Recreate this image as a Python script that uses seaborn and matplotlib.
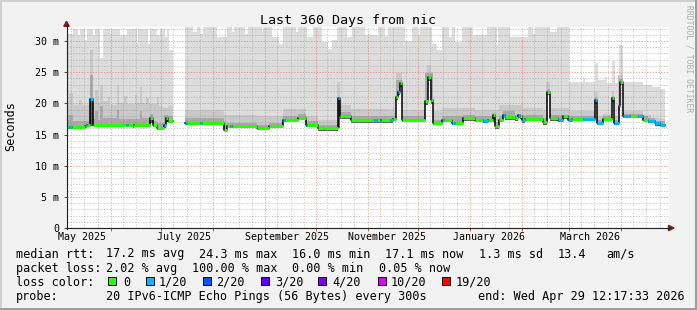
import numpy as np
import pandas as pd
import matplotlib
matplotlib.use("Agg")
import matplotlib.pyplot as plt
import matplotlib.dates as mdates
from matplotlib.patches import Rectangle, Polygon
from matplotlib.lines import Line2D
import seaborn as sns

plt.rcParams["font.family"] = ["DejaVu Sans Mono"]

# ------------------------------------------------------------------ data
title = "Last 360 Days from nic"
y_label = "Seconds"
watermark = "RRDTOOL / TOBI OETIKER"
origin = "2025-05-04 00:00"            # day 0 of the series below
view_start = "2025-05-05 11:30"
view_end = "2026-04-29 12:17"

# median rtt (ms), step series: day since origin, value, loss class, smoke minimum
med_day = [0, 3, 4.5, 12.5, 13.5, 15.5, 17, 37, 38, 41, 42, 51, 53, 55.5, 59.5, 60.5, 62, 65,
           72, 73, 81, 82, 95.5, 97, 99, 100, 115, 122, 130.5, 131.5, 139.4, 144, 145, 151.4,
           163, 164.5, 171, 185, 186.5, 188, 189, 194.5, 196, 198, 199.3, 200.5, 201.5, 215,
           216.8, 218.8, 219.8, 225.3, 226.5, 231, 233, 238, 245, 249.5, 252.5, 255.6, 256.8,
           259, 261.6, 263, 268.8, 270.5, 272, 273, 274.5, 285.5, 288, 289.5, 294.5, 297.5,
           300.5, 303, 309, 316.3, 317.6, 321, 326.5, 327.8, 330.5, 331.5, 333, 337, 342, 345,
           348, 352, 355, 358.2]
med_val = [16.2, 16.2, 16.2, 16.3, 16.6, 20.7, 16.6, 16.6, 16.6, 16.4, 16.6, 17.6, 16.5, 16.0,
           16.6, 17.6, 17.2, np.nan,
           16.9, 16.9, 16.9, 16.9, 15.8, 16.3, 16.3, 16.3, 16.0, 16.3, 17.4, 17.3, 17.7, 16.5,
           16.5, 16.0, 20.8, 17.9, 17.3, 17.3, 17.3, 17.2, 17.3, 17.3, 17.5, 21.0, 21.8, 23.2,
           17.3, 20.4, 24.3, 20.5, 16.8, 17.4, 17.3, 16.9, 16.8, 17.6, 17.3, 17.2, 17.3, 18.1,
           16.3, 17.4, 18.2, 17.8, 17.6, 18.1, 17.9, 17.3, 17.5, 17.0, 21.9, 17.6, 17.3, 17.9,
           17.4, 17.5, 17.5, 20.5, 16.9, 17.5, 20.8, 16.9, 19.5, 23.5, 17.9, 17.9, 17.9, 17.4,
           17.2, 16.8, 16.6, np.nan]
med_loss = [0, 1, 0, 1, 0, 1, 0, 1, 0, 0, 0, 0, 0, 0, 1, 0, 0, 0,
            1, 0, 1, 0, 0, 0, 1, 0, 0, 0, 1, 0, 0, 1, 0, 0, 1, 0, 0, 1, 0, 1, 0, 1, 0, 0,
            1, 0, 0, 0, 0, 0, 0, 1, 0, 1, 0, 0, 0, 1, 0, 0, 0, 0, 1, 0, 0, 1, 0, 1, 0, 0,
            0, 0, 1, 0, 1, 0, 1, 1, 1, 0, 0, 1, 1, 0, 1, 0, 1, 0, 1, 1, 1, 0]
med_lo = [15.9, 15.9, 15.9, 16.0, 16.3, 16.4, 16.3, 16.3, 16.3, 16.1, 16.3, 16.9, 16.2, 15.8,
          16.0, 17.0, 16.9, np.nan,
          16.6, 16.6, 16.6, 16.6, 15.6, 16.0, 16.0, 16.0, 15.7, 16.0, 17.1, 17.0, 17.4, 16.2,
          16.2, 15.6, 16.0, 17.5, 16.9, 16.9, 16.9, 16.9, 16.9, 16.9, 17.1, 20.5, 21.3, 22.6,
          17.0, 19.8, 23.6, 19.9, 16.5, 17.0, 17.0, 16.6, 16.5, 17.2, 17.0, 16.9, 17.0, 17.0,
          15.9, 17.0, 17.8, 17.4, 17.2, 17.6, 17.5, 16.9, 17.1, 16.6, 21.3, 17.2, 17.0, 17.5,
          17.1, 17.2, 17.2, 19.9, 16.5, 17.2, 20.2, 16.5, 19.0, 22.9, 17.6, 17.6, 17.6, 17.1,
          16.9, 16.4, 16.3, np.nan]

# smoke maximum (top of the light smoke)
max_day = [0, 2.4, 5.4, 8.3, 9.5, 12.5, 13.7, 17.3, 18.5, 21.4, 23.2, 27.4, 28, 33.4, 37.5,
           43.5, 44.1, 50, 51.2, 55.4, 57.2, 60.2, 61.4, 62.6, 65,
           72, 76.9, 79.3, 81, 82.8, 91.2, 97.1, 100, 101.3, 107.9, 109.6, 118, 118.6, 124, 128,
           130.5, 138.3, 139.4, 144.8, 148.4, 153.7, 157.3, 159.7, 162.7, 168.6, 171.6, 179.4,
           187.1, 191.3, 193, 203.2, 207.4, 211, 212.4, 219.3, 222.3, 225.3, 229.4, 231.2, 233,
           237.2, 243.7, 252, 258, 258.6, 265.8, 276.5, 279.5, 280.7, 289.6, 293.8,
           300.9, 309.3, 310.5, 316.4, 318.2, 322.4, 323.6, 326.6, 328.4, 330.7, 333.1, 345,
           350.4, 355.2, 358.2]
max_val = [32.0, 31.2, 32.0, 31.0, 32.0, 30.2, 32.0, 31.0, 32.0, 27.2, 32.0, 31.3, 32.0, 31.0,
           32.0, 29.7, 32.0, 29.5, 32.0, 31.0, 32.0, 30.6, 32.0, 28.6, np.nan,
           32.3, 31.5, 32.3, 31.2, 32.3, 30.7, 32.3, 31.4, 32.3, 31.2, 32.3, 31.5, 32.3, 30.6,
           29.6, 32.3, 31.4, 32.3, 30.7, 32.3, 29.8, 28.8, 30.2, 32.3, 30.7, 32.3, 31.0, 32.3,
           30.8, 32.3, 30.0, 32.3, 30.9, 32.3, 29.5, 28.5, 32.3, 30.6, 32.3, 29.9, 32.3, 31.0,
           32.3, 29.4, 32.3, 30.6, 32.3, 31.2, 32.3, 31.4, 32.3,
           23.5, 24.0, 23.4, 26.5, 23.7, 24.3, 23.3, 26.8, 23.2, 29.4, 23.4, 23.0, 22.7, 22.3,
           np.nan]

# top of the medium smoke
hi_day = [0, 3, 5.4, 9, 10.5, 15.5, 17.3, 18.5, 20.3, 21.4, 23.2, 26, 27.5, 31.6, 32.8, 36,
          37.5, 42.3, 43.3, 45.3, 46.5, 49, 50.5, 55.4, 56.6, 59, 62, 65,
          72, 95.5, 115, 122, 130.5, 144, 151.4, 162.5, 164.5, 171, 196, 198, 201.5, 215, 216.5,
          218.8, 219.8, 225.3, 238, 245, 259, 273.5, 285.5, 287.5, 289.5, 300.9, 316, 318.2,
          321, 326.3, 328, 330.3, 333.1, 345, 350, 355, 358.2]
hi_val = [19.8, 21.6, 19.8, 20.5, 19.8, 28.5, 20.2, 22.1, 20.0, 22.9, 20.4, 21.0, 19.8, 22.9,
          20.0, 21.2, 19.9, 21.4, 20.0, 22.7, 20.1, 20.8, 19.9, 21.0, 19.6, 19.2, 19.5, np.nan,
          18.9, 18.2, 17.9, 17.9, 19.1, 17.9, 17.4, 23.5, 19.8, 19.1, 19.3, 24.8, 19.0, 22.0,
          26.1, 22.0, 18.7, 19.3, 19.3, 19.0, 19.8, 19.3, 19.0, 23.5, 19.3, 18.7, 21.8, 18.0,
          18.3, 22.0, 17.9, 24.5, 18.7, 18.2, 17.7, 17.5, np.nan]

# top of the dark smoke
dk_day = [0, 3, 5.4, 15.5, 17.3, 18.5, 20.3, 21.4, 23.2, 31.6, 32.8, 45.3, 46.5, 51, 53, 55.5,
          59.5, 62, 65,
          72, 95.5, 115, 122, 130.5, 139.4, 144, 151.4, 163, 164.5, 171, 198, 201.5, 215, 219.8,
          225.3, 238, 245, 255.6, 256.8, 259, 261.6, 268.8, 274.5, 285.5, 288, 289.5, 300.5,
          316.3, 317.6, 321, 326.5, 327.8, 330.5, 333, 345, 348, 352, 358.2]
dk_val = [17.3, 18.2, 17.2, 24.5, 17.5, 18.8, 17.4, 19.5, 17.6, 19.0, 17.5, 18.8, 17.6, 18.3,
          17.2, 16.8, 18.2, 17.9, np.nan,
          17.6, 16.9, 16.6, 16.9, 18.0, 18.3, 17.1, 16.6, 17.0, 18.6, 17.9, 23.8, 17.9, 24.9,
          17.4, 18.0, 18.2, 17.9, 18.5, 17.0, 18.0, 18.8, 18.2, 18.1, 17.6, 22.3, 18.2, 17.9,
          21.0, 17.4, 17.9, 21.2, 17.4, 23.9, 18.3, 17.9, 17.6, 17.2, np.nan]

y_ticks = [0, 5, 10, 15, 20, 25, 30]
y_tick_labels = ["0", "5 m", "10 m", "15 m", "20 m", "25 m", "30 m"]
y_max = 32.25
x_tick_labels = ["May 2025", "July 2025", "September 2025", "November 2025",
                 "January 2026", "March 2026"]
x_tick_label_dates = ["2025-05-14 16:00", "2025-07-14 12:00", "2025-09-13 14:00",
                      "2025-11-12 12:00", "2026-01-12 08:00", "2026-03-13 12:00"]

loss_labels = ["0", "1/20", "2/20", "3/20", "4/20", "10/20", "19/20"]
loss_colors = ["#26ff00", "#00b8ff", "#0059ff", "#5e00ff", "#7e00ff", "#dd00ff", "#ff0000"]

rtt_items = ["median rtt:", "17.2 ms avg", "24.3 ms max", "16.0 ms min", "17.1 ms now",
             "1.3 ms sd", "13.4", "am/s"]
pl_items = ["packet loss:", "2.02 % avg", "100.00 % max", "0.00 % min", "0.05 % now"]
probe_items = ["probe:", "20 IPv6-ICMP Echo Pings (56 Bytes) every 300s",
               "end: Wed Apr 29 12:17:33 2026"]

# ------------------------------------------------------------------ layout helpers
W, H = 697, 310
def fx(px):
    return px / W
def fy(py):
    return 1 - py / H

fig = plt.figure(figsize=(W / 100, H / 100), dpi=100)
fig.patch.set_facecolor("#F2F2F2")
ax = fig.add_axes([fx(66.5), fy(228), fx(669) - fx(66.5), fy(27) - fy(228)])
ax.set_facecolor("white")

t0 = mdates.date2num(pd.Timestamp(origin))
def tnum(days):
    return t0 + np.asarray(days, dtype=float)

def step_at(bd, bv, g):
    bd = np.asarray(bd, float)
    bv = np.asarray(bv, float)
    idx = np.searchsorted(bd, g, side="right") - 1
    out = bv[np.clip(idx, 0, len(bv) - 1)].copy()
    out[idx < 0] = np.nan
    return out

grid = np.unique(np.concatenate([med_day, max_day, hi_day, dk_day]).astype(float))
xs = np.repeat(grid, 2)[1:-1]
def stepped(bd, bv):
    v = step_at(bd, bv, grid)
    return np.repeat(v[:-1], 2)

lo_s = stepped(med_day, med_lo)
med_s = stepped(med_day, med_val)
max_s = stepped(max_day, max_val)
hi_s = stepped(hi_day, hi_val)
dk_s = stepped(dk_day, dk_val)

X = tnum(xs)
for top, col in [(max_s, "#DDDDDD"), (hi_s, "#C9C9C9"), (dk_s, "#A9A9A9"), (med_s, "#5E5E5E")]:
    ax.fill_between(X, lo_s, np.maximum(top, lo_s), color=col, lw=0, edgecolor="none", zorder=1)

# median line: thin dark step line (seaborn) + loss coloured segments
md = np.asarray(med_day, float)
mv = np.asarray(med_val, float)
rows = []
seg = 0
for i in range(len(md) - 1):
    if np.isnan(mv[i]):
        continue
    rows.append((md[i], mv[i], seg))
    if np.isnan(mv[i + 1]):
        rows.append((md[i + 1], mv[i], seg))
        seg += 1
df = pd.DataFrame(rows, columns=["day", "rtt", "seg"])
df["x"] = tnum(df["day"])
sns.lineplot(data=df, x="x", y="rtt", units="seg", estimator=None, sort=False,
             color="#000000", linewidth=1.1, drawstyle="steps-post", legend=False,
             ax=ax, zorder=3)

valid = ~np.isnan(mv[:-1])
ml = np.asarray(med_loss)[:-1][valid]
ax.hlines(mv[:-1][valid], tnum(md[:-1][valid]), tnum(md[1:][valid]),
          colors=[loss_colors[k] for k in ml], lw=2.2, zorder=4)

# ------------------------------------------------------------------ axes
ax.set_xlim(mdates.date2num(pd.Timestamp(view_start)), mdates.date2num(pd.Timestamp(view_end)))
ax.set_ylim(0, y_max)
ax.set_xlabel("")
ax.set_ylabel("")
ax.xaxis.set_major_locator(mdates.MonthLocator())
ax.xaxis.set_minor_locator(mdates.DayLocator(bymonthday=[8, 16, 24]))
ax.xaxis.set_major_formatter(plt.NullFormatter())
ax.xaxis.set_minor_formatter(plt.NullFormatter())
ax.set_yticks(y_ticks)
ax.set_yticklabels(y_tick_labels)
ax.yaxis.set_minor_locator(plt.MultipleLocator(1))

ax.set_axisbelow(False)
ax.grid(True, which="major", color=(0.87, 0.31, 0.31), alpha=0.45,
        linestyle=(0, (1.4, 1.4)), linewidth=0.72)
ax.grid(True, which="minor", color=(0.56, 0.56, 0.56), alpha=0.4,
        linestyle=(0, (1.4, 1.4)), linewidth=0.72)
ax.tick_params(axis="x", which="major", length=2, width=0.75,
               color=(0.87, 0.31, 0.31), labelbottom=False)
ax.tick_params(axis="x", which="minor", length=0)
ax.tick_params(axis="y", which="major", length=2, width=0.75, color="#555555",
               labelsize=7.2, pad=3.4)
ax.tick_params(axis="y", which="minor", length=0)
for s in ax.spines.values():
    s.set_visible(False)

for lab, d in zip(x_tick_labels, x_tick_label_dates):
    ax.text(mdates.date2num(pd.Timestamp(d)), -12 / 201, lab, ha="center", va="baseline",
            fontsize=7.2, transform=ax.get_xaxis_transform(), clip_on=False)

# axis lines + arrows
axis_col = "#1F1F1F"
arrow_col = (0.5, 0.12, 0.12)
fig.add_artist(Line2D([fx(66.5), fx(66.5)], [fy(228.5), fy(24)], color=axis_col, lw=0.8))
fig.add_artist(Line2D([fx(66), fx(670)], [fy(228), fy(228)], color=axis_col, lw=0.8))
fig.add_artist(Polygon([(fx(63.8), fy(26.3)), (fx(69.2), fy(26.3)), (fx(66.5), fy(21.3))],
                       closed=True, transform=fig.transFigure, color=arrow_col))
fig.add_artist(Polygon([(fx(668.5), fy(225.3)), (fx(668.5), fy(230.7)), (fx(674), fy(228))],
                       closed=True, transform=fig.transFigure, color=arrow_col))

# ------------------------------------------------------------------ texts
fig.text(fx(348.5), fy(24), title, ha="center", va="baseline", fontsize=9.6)
fig.text(fx(10.5), fy(126), y_label, rotation=90, ha="center", va="center", fontsize=8.45)
fig.text(fx(688.5), fy(5), watermark, rotation=270, ha="center", va="top",
         fontsize=5.8, color="#ABABAB")

LEG = 8.45
for txt, px in zip(rtt_items, [15.5, 106.5, 199.2, 292.5, 385.2, 479.2, 557.5, 605.9]):
    fig.text(fx(px), fy(257.5), txt, ha="left", va="baseline", fontsize=LEG)
for txt, px in zip(pl_items, [15.5, 106.5, 192.5, 292.5, 378.5]):
    fig.text(fx(px), fy(271.6), txt, ha="left", va="baseline", fontsize=LEG)
fig.text(fx(15.5), fy(285.7), "loss color:", ha="left", va="baseline", fontsize=LEG)
for lab, col, sx, tx in zip(loss_labels, loss_colors,
                            [108, 145.7, 203, 260.7, 318, 378, 442.3],
                            [123, 159, 216, 275, 332, 390.7, 455.7]):
    fig.add_artist(Rectangle((fx(sx), fy(285)), 8 / W, 8 / H, transform=fig.transFigure,
                             facecolor=col, edgecolor="black", lw=0.7))
    fig.text(fx(tx), fy(285.7), lab, ha="left", va="baseline", fontsize=LEG)
for txt, px in zip(probe_items, [15.5, 106.3, 477.5]):
    fig.text(fx(px), fy(299.8), txt, ha="left", va="baseline", fontsize=LEG)

# 3D frame
fig.add_artist(Rectangle((0, 1 - 2 / H), 1, 2 / H, transform=fig.transFigure,
                         facecolor="#CFCFCF", edgecolor="none"))
fig.add_artist(Rectangle((0, 0), 2 / W, 1, transform=fig.transFigure,
                         facecolor="#CFCFCF", edgecolor="none"))
fig.add_artist(Rectangle((0, 0), 1, 2 / H, transform=fig.transFigure,
                         facecolor="#9E9E9E", edgecolor="none"))
fig.add_artist(Rectangle((1 - 2 / W, 0), 2 / W, 1, transform=fig.transFigure,
                         facecolor="#9E9E9E", edgecolor="none"))

fig.savefig("out.png", dpi=100, facecolor=fig.get_facecolor())
